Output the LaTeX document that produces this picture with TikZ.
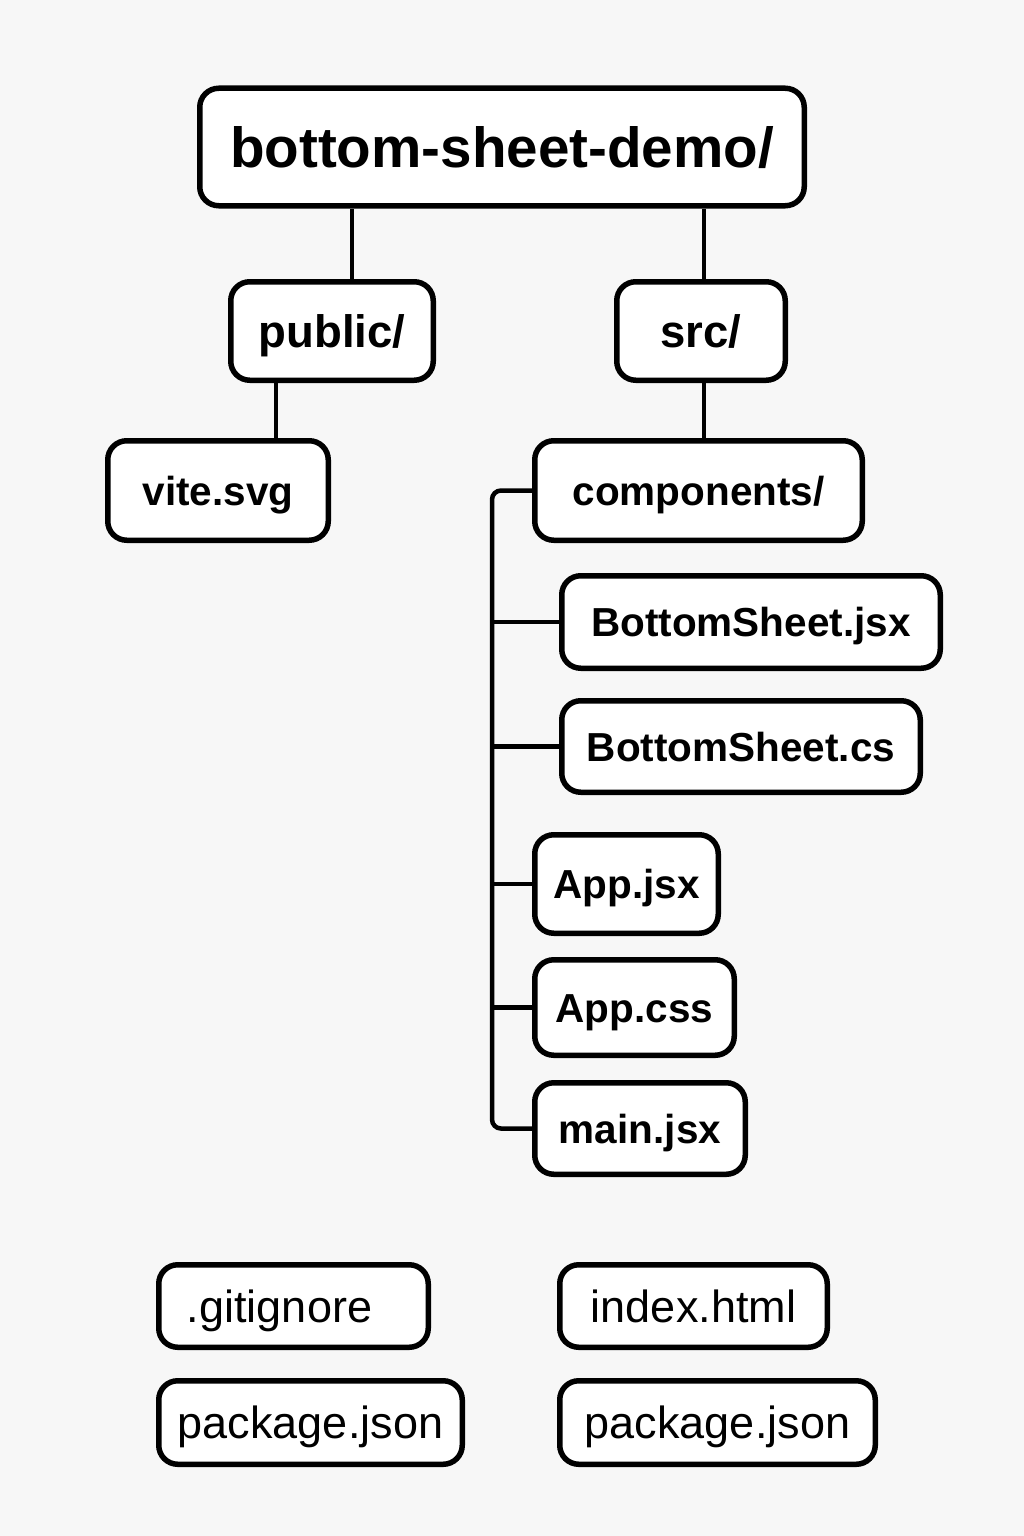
\documentclass[tikz,border=0pt]{standalone}
\usepackage{fontspec}
\setmainfont{Liberation Sans}
\usetikzlibrary{positioning}
\definecolor{treebg}{RGB}{247, 247, 247}
\tikzset{
  treebox/.style={
    draw=black,
    fill=white,
    line width=5.5pt,
    rounded corners=19pt,
    inner sep=0pt,
    text depth=0pt
  },
  rootbox/.style={treebox, text height=40.8pt, font=\fontsize{56.6}{60}\selectfont\bfseries},
  dirbox/.style={treebox, text height=32.8pt, font=\fontsize{45.5}{50}\selectfont\bfseries},
  filebox/.style={treebox, text height=29.2pt, font=\fontsize{40.5}{44}\selectfont\bfseries},
  extrabox/.style={treebox, text height=32.4pt, font=\fontsize{45}{50}\selectfont},
  treeline/.style={line width=4.5pt}
}

\begin{document}
\begin{tikzpicture}[x=1pt,y=-1pt]
\fill[treebg] (0,0) rectangle (1024,1536);
\useasboundingbox (0,0) rectangle (1024,1536);

\node[rootbox,minimum width=604.5pt,minimum height=117.5pt] (root) at (502,147) {bottom-sheet-demo/};
\node[dirbox,minimum width=202.5pt,minimum height=98.5pt] (pub) at (332,331) {public/};
\node[dirbox,minimum width=168.5pt,minimum height=98.5pt] (src) at (701,331) {src/};
\node[filebox,minimum width=220.5pt,minimum height=99.5pt] (vite) at (218,490.5) {vite.svg};
\node[filebox,minimum width=327.5pt,minimum height=99.5pt] (comp) at (698.5,490.5) {components/};

\node[filebox,minimum width=378.5pt,minimum height=92.5pt] (bsjsx) at (751,622) {BottomSheet.jsx};
\node[filebox,minimum width=358.5pt,minimum height=91.5pt] (bscs) at (741,746.5) {BottomSheet.cs};
\node[filebox,minimum width=183.5pt,minimum height=98.5pt] (appjsx) at (626.5,884) {App.jsx};
\node[filebox,minimum width=199.5pt,minimum height=95.5pt] (appcss) at (634.5,1007.5) {App.css};
\node[filebox,minimum width=210.5pt,minimum height=91.5pt] (mainjsx) at (640,1128.5) {main.jsx};

\node[extrabox,minimum width=269.5pt,minimum height=82.5pt] (gitignore) at (293.5,1306) {.gitignore\hspace*{28pt}};
\node[extrabox,minimum width=267.5pt,minimum height=82.5pt] (index) at (693.5,1306) {index.html};
\node[extrabox,minimum width=303.5pt,minimum height=83.5pt] (pkgleft) at (310.5,1422.5) {package.json};
\node[extrabox,minimum width=315.5pt,minimum height=83.5pt] (pkgright) at (717.5,1422.5) {package.json};

% folder links
\draw[treeline] ([xshift=20pt]pub.north) -- ([xshift=20pt]pub.north |- root.south);
\draw[treeline] ([xshift=3pt]src.north) -- ([xshift=3pt]src.north |- root.south);
\draw[treeline] ([xshift=58pt]vite.north) -- ([xshift=58pt]vite.north |- pub.south);
\draw[treeline] ([xshift=3pt]src.south) -- ([xshift=3pt]src.south |- comp.north);

% components trunk
\coordinate (trunk) at ([xshift=-40pt]comp.west);
\draw[treeline,rounded corners=9pt] (comp.west) -- (trunk) |- (mainjsx.west);
\foreach \f in {bsjsx,bscs,appjsx,appcss}
  \draw[treeline] (\f.west) -- (\f.west -| trunk);
\end{tikzpicture}
\end{document}
